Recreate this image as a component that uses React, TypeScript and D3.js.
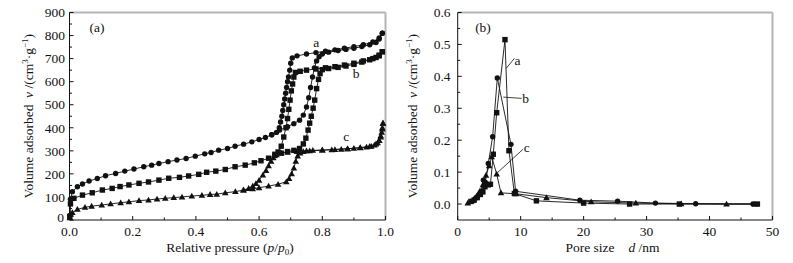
import React from "react";
import * as d3 from "d3";

// ---------- Data: panel (a) isotherms, [p/p0, volume] ----------
const aAdsorption: [number, number][] = [
  [0.001, 20], [0.003, 90], [0.009, 123], [0.025, 144], [0.041, 156], [0.062, 169], [0.088, 180],
  [0.114, 192], [0.146, 202], [0.175, 212], [0.204, 221], [0.235, 231], [0.26, 238], [0.283, 245],
  [0.312, 253], [0.34, 260], [0.369, 267], [0.398, 277], [0.428, 287], [0.448, 293], [0.472, 303],
  [0.5, 310], [0.524, 320], [0.551, 329], [0.577, 339], [0.6, 349], [0.62, 358], [0.64, 370],
  [0.665, 390], [0.69, 405], [0.71, 418], [0.728, 433], [0.74, 455], [0.75, 490], [0.757, 530],
  [0.763, 575], [0.769, 620], [0.775, 660], [0.782, 690], [0.79, 708], [0.8, 720], [0.82, 728],
  [0.85, 735], [0.875, 740], [0.9, 745], [0.925, 752], [0.95, 760], [0.97, 770], [0.98, 785], [0.99, 810],
];
const aDesorption: [number, number][] = [
  [0.99, 810], [0.98, 790], [0.96, 772], [0.93, 760], [0.9, 752], [0.87, 745], [0.84, 738],
  [0.81, 732], [0.78, 726], [0.75, 720], [0.72, 712], [0.705, 703], [0.7, 680], [0.697, 650],
  [0.693, 620], [0.69, 600], [0.687, 575], [0.684, 550], [0.681, 525], [0.678, 500], [0.675, 475],
  [0.672, 450], [0.668, 425], [0.664, 400], [0.655, 380], [0.64, 370],
];
const bAdsorption: [number, number][] = [
  [0.001, 15], [0.003, 70], [0.014, 94], [0.041, 108], [0.072, 118], [0.104, 130], [0.135, 137],
  [0.16, 145], [0.188, 152], [0.22, 159], [0.25, 165], [0.283, 173], [0.314, 181], [0.348, 185],
  [0.377, 191], [0.409, 198], [0.434, 207], [0.463, 212], [0.493, 219], [0.524, 231], [0.556, 238],
  [0.585, 248], [0.606, 257], [0.63, 268], [0.65, 280], [0.67, 290], [0.69, 297], [0.71, 302],
  [0.728, 310], [0.74, 330], [0.748, 355], [0.755, 390], [0.76, 420], [0.765, 450], [0.771, 485],
  [0.776, 520], [0.782, 570], [0.788, 610], [0.793, 635], [0.8, 652], [0.82, 657], [0.85, 662],
  [0.875, 668], [0.9, 675], [0.925, 685], [0.95, 695], [0.97, 705], [0.98, 712], [0.99, 730],
];
const bDesorption: [number, number][] = [
  [0.99, 730], [0.98, 715], [0.96, 700], [0.93, 690], [0.9, 680], [0.87, 672], [0.84, 665],
  [0.81, 660], [0.78, 655], [0.75, 650], [0.73, 645], [0.715, 640], [0.71, 620], [0.706, 590],
  [0.702, 560], [0.698, 520], [0.694, 480], [0.69, 440], [0.685, 400], [0.678, 360], [0.67, 320],
  [0.66, 295], [0.65, 285],
];
const cAdsorption: [number, number][] = [
  [0.001, 10], [0.004, 25], [0.009, 32], [0.025, 46], [0.049, 55], [0.07, 60], [0.102, 65], [0.13, 70],
  [0.162, 75], [0.188, 79], [0.22, 84], [0.25, 87], [0.277, 91], [0.303, 94], [0.33, 97],
  [0.356, 100], [0.387, 104], [0.419, 107], [0.445, 111], [0.466, 112], [0.493, 118], [0.525, 123],
  [0.551, 130], [0.58, 135], [0.6, 140], [0.63, 147], [0.66, 155], [0.686, 166], [0.695, 180],
  [0.703, 200], [0.71, 225], [0.716, 255], [0.722, 278], [0.73, 290], [0.74, 297], [0.75, 300],
  [0.77, 302], [0.8, 303], [0.83, 305], [0.86, 307], [0.88, 309], [0.9, 311], [0.92, 313],
  [0.94, 316], [0.955, 320], [0.965, 325], [0.975, 335], [0.98, 345], [0.985, 360], [0.988, 380],
  [0.99, 400], [0.992, 420],
];
const cDesorption: [number, number][] = [
  [0.992, 420], [0.99, 395], [0.985, 365], [0.98, 345], [0.97, 330], [0.95, 320], [0.92, 314],
  [0.88, 309], [0.84, 306], [0.8, 303], [0.76, 300], [0.72, 297], [0.69, 294], [0.67, 290],
  [0.655, 283], [0.645, 270], [0.638, 255], [0.63, 235], [0.622, 215], [0.612, 195], [0.6, 172],
  [0.59, 158], [0.58, 147], [0.567, 137], [0.55, 130],
];

// ---------- Data: panel (b) pore size distribution, [d nm, volume] ----------
const poreSquares: [number, number][] = [
  [2.1, 0.008], [2.6, 0.012], [3.1, 0.02], [3.6, 0.03], [4.0, 0.038], [4.33, 0.054], [4.86, 0.06],
  [5.2, 0.062], [5.65, 0.156], [6.19, 0.286], [7.51, 0.515], [8.14, 0.167], [9.0, 0.033],
  [12.5, 0.01], [20.0, 0.003], [27.3, 0.0], [35.2, 0.0], [47.6, 0.0],
];
const poreCircles: [number, number][] = [
  [2.5, 0.01], [3.0, 0.02], [3.5, 0.03], [3.8, 0.04], [4.07, 0.075], [4.4, 0.068], [4.86, 0.127],
  [5.55, 0.211], [6.29, 0.395], [8.46, 0.187], [9.2, 0.04], [19.4, 0.012], [25.4, 0.009],
  [31.4, 0.003], [37.8, 0.001], [46.9, 0.0],
];
const poreTriangles: [number, number][] = [
  [1.6, 0.003], [2.0, 0.008], [2.5, 0.015], [3.0, 0.025], [3.5, 0.04], [4.0, 0.06], [4.5, 0.09],
  [5.0, 0.12], [5.4, 0.148], [6.19, 0.094], [6.87, 0.035], [9.3, 0.032], [14.1, 0.02],
  [21.2, 0.007], [28.3, 0.003], [35.5, 0.001], [42.7, 0.0], [47.2, 0.0],
];

// ---------- Ticks ----------
const leftXTicks = [0, 0.2, 0.4, 0.6, 0.8, 1.0];
const leftXLabels = ["0.0", "0.2", "0.4", "0.6", "0.8", "1.0"];
const leftXMinor = [0.1, 0.3, 0.5, 0.7, 0.9];
const leftYTicks = [0, 100, 200, 300, 400, 500, 600, 700, 800, 900];
const leftYLabels = ["0", "100", "200", "300", "400", "500", "600", "700", "800", "900"];
const leftYMinor = [50, 150, 250, 350, 450, 550, 650, 750, 850];
const rightXTicks = [0, 10, 20, 30, 40, 50];
const rightXLabels = ["0", "10", "20", "30", "40", "50"];
const rightXMinor = [5, 15, 25, 35, 45];
const rightYTicks = [0, 0.1, 0.2, 0.3, 0.4, 0.5, 0.6];
const rightYLabels = ["0.0", "0.1", "0.2", "0.3", "0.4", "0.5", "0.6"];
const rightYMinor = [0.05, 0.15, 0.25, 0.35, 0.45, 0.55];

// annotations (data units)
const leftLabels = [
  { t: "a", x: 0.781, y: 772, lx1: 0.8, ly1: 719, lx2: 0.773, ly2: 676 },
  { t: "b", x: 0.907, y: 638 },
  { t: "c", x: 0.876, y: 364 },
];
const rightLabels = [
  { t: "a", x: 9.5, y: 0.451, lx1: 9.0, ly1: 0.456, lx2: 7.7, ly2: 0.425 },
  { t: "b", x: 10.8, y: 0.331, lx1: 10.15, ly1: 0.331, lx2: 7.24, ly2: 0.335 },
  { t: "c", x: 10.95, y: 0.179, lx1: 10.4, ly1: 0.172, lx2: 6.35, ly2: 0.099 },
];

const FONT = "'Liberation Serif', 'Times New Roman', serif";
const INK = "#111";

type Pt = [number, number];

function Marker({ kind, x, y }: { kind: string; x: number; y: number }) {
  if (kind === "circle") return <circle cx={x} cy={y} r={2.7} fill={INK} />;
  if (kind === "square") return <rect x={x - 2.7} y={y - 2.7} width={5.4} height={5.4} fill={INK} />;
  const s = 3.3;
  return <path d={`M${x},${y - s}L${x + s},${y + s * 0.75}L${x - s},${y + s * 0.75}Z`} fill={INK} />;
}

function Series({ pts, kind, sx, sy }: { pts: Pt[]; kind: string; sx: any; sy: any }) {
  const line = d3.line<Pt>().x((d) => sx(d[0])).y((d) => sy(d[1]));
  return (
    <g>
      <path d={line(pts) || ""} fill="none" stroke={INK} strokeWidth={0.9} />
      {pts.map((d, i) => (
        <Marker key={i} kind={kind} x={sx(d[0])} y={sy(d[1])} />
      ))}
    </g>
  );
}

function Frame({ sx, sy, xT, xL, xM, yT, yL, yM, labelRight, zeroLift }: any) {
  const [x0, x1] = sx.range();
  const [y0, y1] = sy.range();
  return (
    <g fontFamily={FONT} fontSize={13.5} fill={INK}>
      <line x1={x0} x2={x1} y1={y1} y2={y1} stroke="#b5b5b5" strokeWidth={2} />
      <line x1={x1} x2={x1} y1={y1} y2={y0} stroke="#b5b5b5" strokeWidth={2} />
      <line x1={x0} x2={x1} y1={y0} y2={y0} stroke={INK} strokeWidth={1} />
      <line x1={x0} x2={x0} y1={y0} y2={y1} stroke={INK} strokeWidth={1} />
      {xT.map((v: number, i: number) => (
        <g key={"xt" + i}>
          <line x1={sx(v)} x2={sx(v)} y1={y0} y2={y0 - 4} stroke={INK} strokeWidth={1} />
          <text x={sx(v)} y={y0 + 15.5} textAnchor="middle">{xL[i]}</text>
        </g>
      ))}
      {xM.map((v: number, i: number) => (
        <line key={"xm" + i} x1={sx(v)} x2={sx(v)} y1={y0} y2={y0 - 2.5} stroke={INK} strokeWidth={1} />
      ))}
      {yT.map((v: number, i: number) => (
        <g key={"yt" + i}>
          <line x1={x0} x2={x0 + 4} y1={sy(v)} y2={sy(v)} stroke={INK} strokeWidth={1} />
          <text x={labelRight - (i === 0 && zeroLift ? 1 : 0)} y={sy(v) - (i === 0 && zeroLift ? 2.5 : 0)}
            dy="0.35em" textAnchor="end">{yL[i]}</text>
        </g>
      ))}
      {yM.map((v: number, i: number) => (
        <line key={"ym" + i} x1={x0} x2={x0 + 2.5} y1={sy(v)} y2={sy(v)} stroke={INK} strokeWidth={1} />
      ))}
    </g>
  );
}

function YTitle({ x }: { x: number }) {
  return (
    <g fontFamily={FONT} fontSize={13.5} fill={INK}>
      <text transform={`translate(${x},151.5) rotate(-90)`} textAnchor="middle" dy="0.35em">
        Volume adsorbed
      </text>
      <text transform={`translate(${x},66) rotate(-90)`} textAnchor="middle" dy="0.35em">
        <tspan fontStyle="italic">v</tspan>
        <tspan> /(cm</tspan>
        <tspan fontSize={9} dy={-5}>3</tspan>
        <tspan dy={5}>·g</tspan>
        <tspan fontSize={9} dy={-5}>−1</tspan>
        <tspan dy={5}>)</tspan>
      </text>
    </g>
  );
}

export default function App() {
  const lx = d3.scaleLinear().domain([0, 1]).range([69.5, 385.5]);
  const ly = d3.scaleLinear().domain([0, 900]).range([220, 12.5]);
  const rx = d3.scaleLinear().domain([0, 50]).range([457.7, 772.5]);
  const ry = d3.scaleLinear().domain([-0.05, 0.6]).range([220, 12.5]);

  return (
    <svg width={793} height={263} style={{ position: "absolute", left: 0, top: 0, background: "#fff" }}>
      <rect width={793} height={263} fill="#fff" />
      {/* panel (a) */}
      <Frame sx={lx} sy={ly} xT={leftXTicks} xL={leftXLabels} xM={leftXMinor}
        yT={leftYTicks} yL={leftYLabels} yM={leftYMinor} labelRight={65} zeroLift />
      <Series pts={[...cAdsorption, ...cDesorption]} kind="triangle" sx={lx} sy={ly} />
      <Series pts={[...bAdsorption, ...bDesorption]} kind="square" sx={lx} sy={ly} />
      <Series pts={[...aAdsorption, ...aDesorption]} kind="circle" sx={lx} sy={ly} />
      <g fontFamily={FONT} fontSize={13.5} fill={INK}>
        {leftLabels.map((l, i) => (
          <g key={i}>
            {l.lx1 !== undefined && (
              <line x1={lx(l.lx1)} y1={ly(l.ly1!)} x2={lx(l.lx2!)} y2={ly(l.ly2!)} stroke={INK} strokeWidth={0.8} />
            )}
            <text x={lx(l.x)} y={ly(l.y)} dy="0.35em" textAnchor="middle">{l.t}</text>
          </g>
        ))}
        <text x={97} y={27} dy="0.35em" textAnchor="middle">(a)</text>
        <text x={230} y={252} textAnchor="middle">
          Relative pressure (<tspan fontStyle="italic">p</tspan>/<tspan fontStyle="italic">p</tspan>
          <tspan fontSize={9} dy={3}>0</tspan><tspan dy={-3}>)</tspan>
        </text>
      </g>
      <YTitle x={28} />

      {/* panel (b) */}
      <Frame sx={rx} sy={ry} xT={rightXTicks} xL={rightXLabels} xM={rightXMinor}
        yT={rightYTicks} yL={rightYLabels} yM={rightYMinor} labelRight={450.5} />
      <Series pts={poreTriangles} kind="triangle" sx={rx} sy={ry} />
      <Series pts={poreCircles} kind="circle" sx={rx} sy={ry} />
      <Series pts={poreSquares} kind="square" sx={rx} sy={ry} />
      <g fontFamily={FONT} fontSize={13.5} fill={INK}>
        {rightLabels.map((l, i) => (
          <g key={i}>
            <line x1={rx(l.lx1)} y1={ry(l.ly1)} x2={rx(l.lx2)} y2={ry(l.ly2)} stroke={INK} strokeWidth={0.8} />
            <text x={rx(l.x)} y={ry(l.y)} dy="0.35em" textAnchor="middle">{l.t}</text>
          </g>
        ))}
        <text x={483} y={27} dy="0.35em" textAnchor="middle">(b)</text>
        <text x={590} y={252} textAnchor="middle">Pore size</text>
        <text x={644} y={252} textAnchor="middle">
          <tspan fontStyle="italic">d</tspan> /nm
        </text>
      </g>
      <YTitle x={412} />
    </svg>
  );
}
